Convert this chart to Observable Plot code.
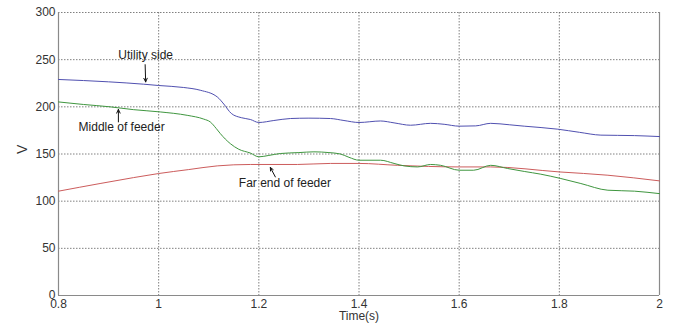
<!DOCTYPE html>
<html>
<head>
<meta charset="utf-8">
<script src="https://cdn.jsdelivr.net/npm/d3@7"></script>
<script src="https://cdn.jsdelivr.net/npm/@observablehq/plot@0.6"></script>
<style>
  html, body { margin: 0; padding: 0; background: #fff; }
  #chart svg { display: block; }
</style>
</head>
<body>
<div id="chart"></div>
<script>
// ---- data ----
const xTicks = [0.8, 1, 1.2, 1.4, 1.6, 1.8, 2];
const yTicks = [0, 50, 100, 150, 200, 250, 300];

const utilityT = [0.8, 0.9, 0.97, 1.0, 1.05, 1.083, 1.117, 1.13, 1.145, 1.165, 1.183, 1.2, 1.23, 1.263, 1.3, 1.343, 1.37, 1.4, 1.443, 1.47, 1.503, 1.543, 1.57, 1.6, 1.633, 1.663, 1.7, 1.73, 1.797, 1.84, 1.883, 1.95, 2.0];
const utilityV = [229, 226.5, 224, 222.6, 220.5, 217.6, 210.5, 203, 193, 188.5, 186.6, 183.4, 185.5, 187.6, 188, 187.6, 185.5, 183.4, 185, 183, 180.5, 182.5, 181.5, 179.5, 179.8, 182.5, 181, 179.5, 176.3, 173, 170, 169.5, 168.5];

const middleT = [0.8, 0.85, 0.903, 0.95, 1.003, 1.057, 1.09, 1.103, 1.115, 1.123, 1.143, 1.16, 1.183, 1.2, 1.22, 1.243, 1.28, 1.31, 1.34, 1.363, 1.38, 1.4, 1.443, 1.47, 1.49, 1.517, 1.543, 1.563, 1.6, 1.629, 1.663, 1.697, 1.73, 1.763, 1.803, 1.843, 1.897, 1.95, 2.0];
const middleV = [205.2, 202.5, 200, 197, 194.6, 191, 187, 184, 177, 171.7, 161, 155, 151, 147, 148.5, 150.5, 151.5, 152.3, 151.5, 150, 146.5, 143.4, 143.4, 140, 137.4, 136.3, 138.9, 138, 132.8, 132.8, 138, 134.6, 131.5, 128.6, 124, 118.7, 111.6, 110.6, 108];

const farT = [0.8, 0.883, 0.95, 1.0, 1.06, 1.117, 1.183, 1.277, 1.343, 1.4, 1.477, 1.6, 1.663, 1.8, 1.897, 2.0];
const farV = [110.6, 118.7, 125, 129.3, 133.5, 137.4, 138.9, 138.9, 140, 140, 138, 136.3, 136.3, 131, 127.5, 121.5];

const annLabels = ["Utility side", "Middle of feeder", "Far end of feeder"];
const annTextT = [0.974, 0.926, 1.252];
const annTextV = [254.7, 178.4, 119];
const annFromT = [0.973, 0.9196, 1.233];
const annFromV = [244.7, 184, 125.7];
const annToT = [0.974, 0.9196, 1.223];
const annToV = [226.4, 197.2, 135.7];

// ---- build tables ----
const toRows = (T, V) => T.map((t, i) => ({t, v: V[i]}));
const utility = toRows(utilityT, utilityV);
const middle = toRows(middleT, middleV);
const far = toRows(farT, farV);
const ann = annLabels.map((label, i) => ({
  label, tx: annTextT[i], ty: annTextV[i],
  x1: annFromT[i], y1: annFromV[i], x2: annToT[i], y2: annToV[i]
}));

const font = "'Liberation Sans', Arial, Helvetica, sans-serif";
const gridStyle = {stroke: "#555", strokeOpacity: 0.75, strokeDasharray: "1.5,1.5", strokeWidth: 1};

const chart = Plot.plot({
  width: 673,
  height: 326,
  marginLeft: 58,
  marginRight: 14,
  marginTop: 12,
  marginBottom: 31,
  style: {fontFamily: font, fontSize: "12px", color: "#333", background: "#fff"},
  x: {domain: [0.8, 2]},
  y: {domain: [0, 300]},
  marks: [
    Plot.gridX(xTicks, gridStyle),
    Plot.gridY(yTicks, gridStyle),
    Plot.ruleX([0.8, 2], {stroke: "#8a8a8a", strokeWidth: 1.2}),
    Plot.ruleY([0], {stroke: "#8a8a8a", strokeWidth: 1.2}),
    Plot.axisX(xTicks, {tickSize: 0, tickPadding: 4, tickFormat: d => String(d), fontSize: 12, fill: "#333", label: null}),
    Plot.axisY(yTicks, {tickSize: 0, tickPadding: 3, fontSize: 12, fill: "#333", label: null}),
    Plot.text(["Time(s)"], {frameAnchor: "bottom", dy: 24.5, fontSize: 12, fill: "#333"}),
    Plot.text(["V"], {frameAnchor: "left", dx: -36, rotate: -90, fontSize: 14, fill: "#333"}),
    Plot.line(far, {x: "t", y: "v", stroke: "#cc5c5c", strokeWidth: 1, curve: "monotone-x"}),
    Plot.line(middle, {x: "t", y: "v", stroke: "#3f963f", strokeWidth: 1, curve: "monotone-x"}),
    Plot.line(utility, {x: "t", y: "v", stroke: "#5050b0", strokeWidth: 1, curve: "monotone-x"}),
    Plot.arrow(ann, {x1: "x1", y1: "y1", x2: "x2", y2: "y2", stroke: "#111", strokeWidth: 1, headLength: 6, headAngle: 50}),
    Plot.text(ann, {x: "tx", y: "ty", text: "label", fontSize: 12, fill: "#222"})
  ]
});
document.getElementById("chart").appendChild(chart);
</script>
</body>
</html>
